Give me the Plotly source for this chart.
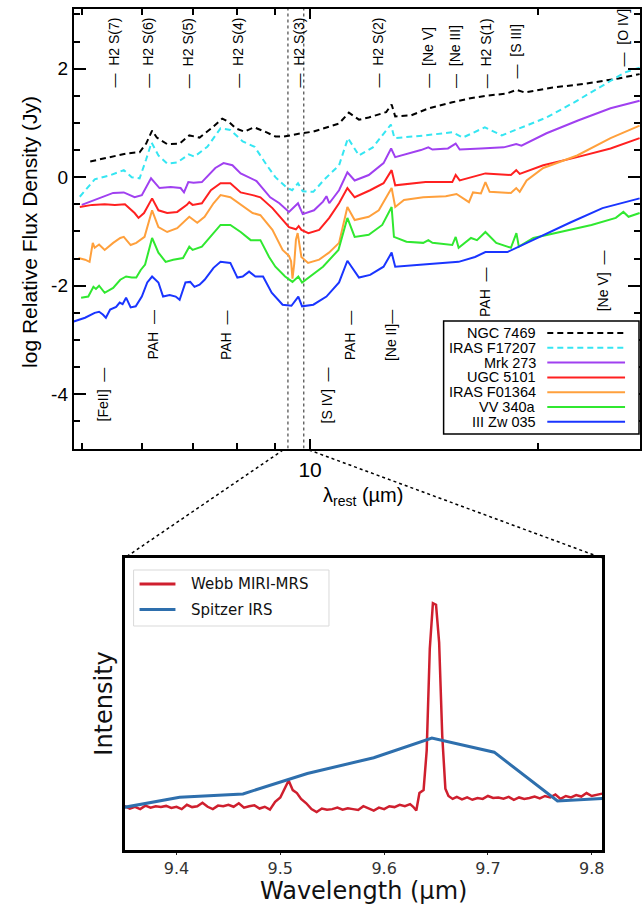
import numpy as np
import plotly.graph_objects as go

W, H = 642, 909

# ---------------- top panel: spectra (wavelength um, log relative flux density) ----------------
ngc7469 = [(5.13, 0.29), (5.44, 0.37), (5.74, 0.44), (5.96, 0.46), (6.08, 0.62), (6.19, 0.86), (6.28, 0.73),
           (6.48, 0.61), (6.73, 0.62), (6.93, 0.77), (7.15, 0.73), (7.44, 0.92), (7.66, 1.08), (7.83, 1.01),
           (7.98, 0.90), (8.19, 0.84), (8.44, 0.92), (8.75, 0.83), (9.0, 0.75), (9.24, 0.75), (9.38, 0.77),
           (9.74, 0.81), (10.1, 0.84), (10.43, 0.90), (10.92, 0.99), (11.25, 1.19), (11.6, 1.06), (11.95, 1.10),
           (12.6, 1.20), (12.81, 1.34), (12.95, 1.12), (13.6, 1.14), (14.34, 1.27), (15.4, 1.38), (16.2, 1.45),
           (17.03, 1.50), (18.15, 1.54), (18.71, 1.61), (19.2, 1.56), (20.8, 1.65), (23.0, 1.72), (25.5, 1.82),
           (27.2, 1.90)]
iras_f17207 = [(4.97, -0.36), (5.2, -0.04), (5.46, 0.04), (5.68, 0.13), (5.82, 0.0), (5.96, -0.02), (6.08, 0.33),
               (6.18, 0.64), (6.31, 0.40), (6.48, 0.25), (6.68, 0.27), (6.92, 0.42), (7.04, 0.38), (7.32, 0.56),
               (7.62, 0.90), (7.85, 0.87), (8.15, 0.66), (8.45, 0.56), (8.8, 0.19), (9.0, 0.0), (9.3, -0.18),
               (9.47, -0.24), (9.64, -0.11), (9.78, -0.26), (10.1, -0.27), (10.43, -0.05), (10.92, 0.22),
               (11.22, 0.72), (11.6, 0.40), (12.1, 0.55), (12.78, 0.97), (12.92, 0.72), (14.2, 0.77), (15.4, 0.83),
               (15.9, 0.73), (17.0, 0.92), (17.9, 0.77), (18.75, 0.88), (20.5, 1.10), (22.3, 1.38), (24.5, 1.72),
               (26.0, 1.93), (27.2, 2.02)]
mrk273 = [(5.0, -0.51), (5.2, -0.42), (5.3, -0.37), (5.5, -0.29), (5.68, -0.28), (5.87, -0.37), (6.0, -0.33),
          (6.17, -0.02), (6.33, -0.20), (6.55, -0.18), (6.75, -0.20), (6.82, -0.28), (6.91, -0.09), (7.02, -0.10),
          (7.2, -0.09), (7.5, 0.17), (7.69, 0.26), (7.9, 0.22), (8.1, 0.07), (8.5, -0.07), (8.86, -0.37),
          (9.11, -0.48), (9.38, -0.64), (9.64, -0.48), (9.78, -0.68), (10.12, -0.61), (10.4, -0.45), (10.51, -0.35),
          (10.6, -0.48), (10.92, -0.24), (11.2, 0.09), (11.45, -0.06), (11.95, 0.04), (12.5, 0.26), (12.79, 0.53),
          (12.95, 0.37), (14.0, 0.50), (14.32, 0.55), (14.5, 0.51), (15.2, 0.53), (15.56, 0.62), (15.75, 0.51),
          (16.8, 0.53), (18.0, 0.55), (18.7, 0.61), (19.0, 0.58), (20.5, 0.81), (22.6, 1.05), (24.9, 1.27),
          (27.2, 1.41)]
ugc5101 = [(4.97, -0.55), (5.16, -0.51), (5.36, -0.50), (5.53, -0.51), (5.70, -0.50), (5.87, -0.66), (5.94, -0.75),
           (6.04, -0.66), (6.19, -0.39), (6.31, -0.61), (6.48, -0.66), (6.68, -0.64), (6.88, -0.51), (6.93, -0.46),
           (7.0, -0.51), (7.2, -0.48), (7.4, -0.24), (7.62, -0.11), (7.85, -0.11), (8.1, -0.28), (8.4, -0.33),
           (8.6, -0.37), (8.92, -0.57), (9.2, -0.78), (9.38, -0.92), (9.58, -0.96), (9.66, -0.90), (9.74, -0.97),
           (9.95, -1.03), (10.28, -0.97), (10.6, -0.75), (10.92, -0.48), (11.2, -0.20), (11.45, -0.37),
           (12.0, -0.24), (12.5, -0.11), (12.81, 0.13), (12.95, -0.15), (14.2, -0.09), (15.4, -0.09), (15.56, 0.04),
           (15.75, -0.06), (17.03, 0.07), (18.4, 0.04), (18.7, 0.13), (18.9, 0.06), (20.3, 0.22), (22.5, 0.37),
           (24.9, 0.53), (27.2, 0.72)]
iras_f01364 = [(4.95, -1.49), (5.05, -1.52), (5.12, -1.56), (5.17, -1.21), (5.2, -1.30), (5.27, -1.24), (5.36, -1.34),
               (5.5, -1.21), (5.62, -1.12), (5.68, -1.10), (5.8, -1.25), (5.9, -1.21), (6.05, -1.10), (6.19, -0.61),
               (6.31, -0.92), (6.48, -1.01), (6.68, -0.94), (6.93, -0.73), (7.1, -0.84), (7.26, -0.73), (7.46, -0.48),
               (7.62, -0.33), (7.85, -0.37), (8.1, -0.51), (8.4, -0.66), (8.6, -0.70), (8.92, -0.97), (9.2, -1.34),
               (9.38, -1.45), (9.44, -1.55), (9.48, -1.87), (9.53, -1.60), (9.58, -1.15), (9.63, -1.03),
               (9.68, -1.25), (9.74, -1.47), (9.94, -1.58), (10.28, -1.52), (10.59, -1.39), (10.92, -1.21),
               (11.2, -0.55), (11.45, -0.79), (11.95, -0.73), (12.32, -0.61), (12.81, -0.20), (12.95, -0.55),
               (13.3, -0.42), (14.1, -0.37), (15.1, -0.35), (15.6, -0.31), (16.2, -0.46), (16.4, -0.28), (16.8, -0.30),
               (17.03, -0.09), (17.25, -0.27), (17.9, -0.28), (18.4, -0.29), (18.7, -0.20), (18.9, -0.27),
               (19.3, -0.06), (20.3, 0.17), (22.5, 0.40), (24.9, 0.72), (27.2, 0.95)]
vv340a = [(4.99, -2.22), (5.1, -2.20), (5.18, -2.02), (5.22, -2.06), (5.27, -2.00), (5.36, -2.13), (5.5, -2.04),
          (5.62, -1.89), (5.72, -1.83), (5.82, -1.85), (5.9, -1.85), (5.98, -1.71), (6.06, -1.61), (6.19, -1.12),
          (6.31, -1.39), (6.45, -1.56), (6.6, -1.52), (6.8, -1.49), (6.93, -1.28), (7.0, -1.34), (7.2, -1.28),
          (7.46, -1.03), (7.62, -0.88), (7.85, -0.88), (8.1, -1.01), (8.35, -1.16), (8.6, -1.16), (8.83, -1.47),
          (9.0, -1.65), (9.27, -1.83), (9.48, -1.93), (9.65, -1.83), (9.76, -1.94), (10.4, -1.65), (10.9, -1.34),
          (11.2, -0.75), (11.45, -1.10), (11.95, -1.06), (12.45, -0.88), (12.81, -0.55), (12.9, -1.10),
          (13.4, -1.19), (14.1, -1.21), (14.32, -1.16), (14.5, -1.21), (15.4, -1.25), (15.56, -1.10), (15.7, -1.30),
          (16.3, -1.12), (16.6, -1.16), (17.03, -1.01), (17.6, -1.21), (18.4, -1.30), (18.71, -1.03),
          (18.85, -1.28), (19.7, -1.12), (21.4, -1.01), (23.5, -0.88), (25.3, -0.75), (25.89, -0.64),
          (26.3, -0.73), (27.2, -0.66)]
iiizw035 = [(4.88, -2.66), (5.05, -2.59), (5.2, -2.50), (5.27, -2.48), (5.33, -2.53), (5.38, -2.59), (5.45, -2.44),
            (5.55, -2.39), (5.61, -2.31), (5.66, -2.34), (5.72, -2.22), (5.8, -2.40), (5.89, -2.38), (6.0, -2.20),
            (6.1, -1.94), (6.19, -1.83), (6.31, -1.94), (6.4, -2.20), (6.53, -2.17), (6.65, -2.20), (6.73, -2.26),
            (6.85, -1.94), (6.95, -1.93), (7.04, -2.02), (7.15, -1.98), (7.26, -1.89), (7.46, -1.67), (7.62, -1.56),
            (7.85, -1.58), (8.02, -1.85), (8.15, -1.83), (8.31, -1.74), (8.47, -1.83), (8.67, -1.83), (8.9, -2.13),
            (9.2, -2.35), (9.45, -2.37), (9.65, -2.20), (9.76, -2.38), (10.1, -2.35), (10.51, -2.20),
            (10.92, -1.94), (11.2, -1.54), (11.6, -1.85), (12.0, -1.80), (12.5, -1.65), (12.81, -1.39),
            (12.95, -1.65), (14.1, -1.61), (15.7, -1.56), (16.5, -1.47), (17.03, -1.38), (18.2, -1.38),
            (19.9, -1.12), (22.0, -0.84), (24.3, -0.57), (27.2, -0.39)]

series_names = ["NGC 7469", "IRAS F17207", "Mrk 273", "UGC 5101", "IRAS F01364", "VV 340a", "III Zw 035"]
series_data = [ngc7469, iras_f17207, mrk273, ugc5101, iras_f01364, vv340a, iiizw035]

# line identifications
top_labels = ["H2 S(7)", "H2 S(6)", "H2 S(5)", "H2 S(4)", "H2 S(3)", "H2 S(2)", "[Ne V]", "[Ne III]",
              "H2 S(1)", "[S III]", "[O IV]"]
top_labels_wl = [5.51, 6.11, 6.91, 8.03, 9.66, 12.28, 14.32, 15.56, 17.03, 18.71, 25.89]
top_labels_y = [1.61, 1.61, 1.61, 1.61, 1.61, 1.61, 1.61, 1.61, 1.61, 1.79, 2.01]
bottom_labels = ["[FeII]", "PAH", "PAH", "[S IV]", "PAH", "[Ne II]", "PAH", "[Ne V]"]
bottom_labels_wl = [5.34, 6.2, 7.75, 10.51, 11.3, 12.81, 17.0, 24.3]
bottom_labels_y = [-3.46, -2.41, -2.41, -3.46, -2.41, -2.41, -1.62, -1.31]

# zoomed window
zoom_range = [9.35, 9.81]

# ---------------- inset: Webb vs Spitzer ----------------
webb_wl = [9.350, 9.355, 9.360, 9.365, 9.370, 9.375, 9.380, 9.385, 9.390, 9.395, 9.400, 9.405, 9.410, 9.415,
           9.420, 9.425, 9.430, 9.435, 9.440, 9.445, 9.450, 9.455, 9.460, 9.465, 9.470, 9.475, 9.480, 9.485,
           9.490, 9.495, 9.500, 9.505, 9.508, 9.512, 9.516, 9.520, 9.525, 9.530, 9.535, 9.540, 9.545, 9.550,
           9.555, 9.560, 9.565, 9.570, 9.575, 9.580, 9.585, 9.590, 9.595, 9.600, 9.605, 9.610, 9.615, 9.620,
           9.625, 9.628, 9.631, 9.634, 9.638, 9.641, 9.644, 9.647, 9.650, 9.653, 9.656, 9.659, 9.662, 9.666,
           9.670, 9.675, 9.680, 9.685, 9.690, 9.695, 9.700, 9.705, 9.710, 9.715, 9.720, 9.725, 9.730, 9.735,
           9.740, 9.745, 9.750, 9.755, 9.760, 9.765, 9.770, 9.775, 9.780, 9.785, 9.790, 9.795, 9.800, 9.805, 9.810]
webb_int = [0.150, 0.142, 0.148, 0.140, 0.152, 0.145, 0.150, 0.147, 0.151, 0.144, 0.148, 0.140, 0.155, 0.147,
            0.150, 0.162, 0.148, 0.140, 0.152, 0.150, 0.155, 0.148, 0.160, 0.145, 0.150, 0.153, 0.142, 0.148,
            0.138, 0.165, 0.180, 0.215, 0.238, 0.205, 0.195, 0.175, 0.160, 0.140, 0.130, 0.142, 0.138, 0.140,
            0.145, 0.138, 0.143, 0.140, 0.137, 0.150, 0.142, 0.135, 0.145, 0.140, 0.150, 0.147, 0.155, 0.150,
            0.157, 0.148, 0.135, 0.195, 0.205, 0.340, 0.690, 0.845, 0.840, 0.710, 0.390, 0.210, 0.185, 0.175,
            0.182, 0.173, 0.180, 0.172, 0.178, 0.175, 0.185, 0.178, 0.180, 0.176, 0.182, 0.172, 0.180, 0.175,
            0.178, 0.183, 0.177, 0.185, 0.180, 0.190, 0.175, 0.185, 0.180, 0.188, 0.183, 0.195, 0.185, 0.190, 0.193]
spitzer_wl = [9.348, 9.403, 9.464, 9.526, 9.590, 9.646, 9.706, 9.767, 9.810]
spitzer_int = [0.145, 0.181, 0.192, 0.262, 0.316, 0.383, 0.335, 0.168, 0.176]

# ---------------- styles ----------------
styles = [("#000000", "6px,4px"), ("#35e6f2", "6px,4px"), ("#a040f0", "solid"), ("#ff2020", "solid"),
          ("#ffa03c", "solid"), ("#30e830", "solid"), ("#1a35ff", "solid")]
TOP_FONT = "Liberation Sans, Arial, Helvetica, sans-serif"
MPL_FONT = "DejaVu Sans, sans-serif"

def px_x(p):
    return p / W

def px_y(p):
    return 1 - p / H

fig = go.Figure()

# zoom window markers (vertical dotted lines)
for z in zoom_range:
    fig.add_trace(go.Scatter(x=[z, z], y=[-5, 3.1], mode="lines", xaxis="x", yaxis="y",
                             line=dict(color="#555555", width=1.3, dash="dot"),
                             showlegend=False, hoverinfo="skip"))

for name, data, (col, dash) in zip(series_names, series_data, styles):
    fig.add_trace(go.Scatter(x=[p[0] for p in data], y=[p[1] for p in data], mode="lines",
                             name=name, xaxis="x", yaxis="y",
                             line=dict(color=col, width=2, dash=dash),
                             showlegend=False, hoverinfo="skip"))

fig.add_trace(go.Scatter(x=webb_wl, y=webb_int, mode="lines", name="Webb MIRI-MRS", xaxis="x2", yaxis="y2",
                         line=dict(color="#cf1f2e", width=2.5), showlegend=False, hoverinfo="skip"))
fig.add_trace(go.Scatter(x=spitzer_wl, y=spitzer_int, mode="lines", name="Spitzer IRS", xaxis="x2", yaxis="y2",
                         line=dict(color="#2e6fad", width=3), showlegend=False, hoverinfo="skip"))

annotations = []
for lab, wl, yv in zip(top_labels, top_labels_wl, top_labels_y):
    annotations.append(dict(x=np.log10(wl), y=yv, xref="x", yref="y", text="\u2014\u00a0\u00a0" + lab,
                            textangle=-90, xanchor="center", yanchor="bottom", showarrow=False,
                            font=dict(family=TOP_FONT, size=14, color="black")))
for lab, wl, yv in zip(bottom_labels, bottom_labels_wl, bottom_labels_y):
    sep = "" if lab == "[Ne II]" else "\u00a0\u00a0"
    annotations.append(dict(x=np.log10(wl), y=yv, xref="x", yref="y", text=lab + sep + "\u2014",
                            textangle=-90, xanchor="center", yanchor="top", showarrow=False,
                            font=dict(family=TOP_FONT, size=14, color="black")))

# axis titles
annotations.append(dict(x=px_x(29), y=px_y(232), xref="paper", yref="paper", text="log Relative Flux Density (Jy)",
                        textangle=-90, xanchor="center", yanchor="middle", showarrow=False,
                        font=dict(family=TOP_FONT, size=21, color="black")))
annotations.append(dict(x=px_x(364), y=px_y(496), xref="paper", yref="paper", text="\u03bb<sub>rest</sub> (\u00b5m)",
                        xanchor="center", yanchor="middle", showarrow=False,
                        font=dict(family=TOP_FONT, size=20, color="black")))
annotations.append(dict(x=px_x(104), y=px_y(704), xref="paper", yref="paper", text="Intensity",
                        textangle=-90, xanchor="center", yanchor="middle", showarrow=False,
                        font=dict(family=MPL_FONT, size=24, color="#111111")))
annotations.append(dict(x=px_x(365), y=px_y(891), xref="paper", yref="paper", text="Wavelength (\u00b5m)",
                        xanchor="center", yanchor="middle", showarrow=False,
                        font=dict(family=MPL_FONT, size=24, color="#111111")))

shapes = []
# top legend (text left of sample line)
shapes.append(dict(type="rect", xref="paper", yref="paper", x0=px_x(445), x1=px_x(641), y0=px_y(434), y1=px_y(321),
                   line=dict(color="black", width=1.5), fillcolor="white", layer="above"))
for i, (name, (col, dash)) in enumerate(zip(series_names, styles)):
    ry = 333 + i * 14.8
    shapes.append(dict(type="line", xref="paper", yref="paper", x0=px_x(549), x1=px_x(627), y0=px_y(ry), y1=px_y(ry),
                       line=dict(color=col, width=2, dash=dash), layer="above"))
    annotations.append(dict(x=px_x(540), y=px_y(ry), xref="paper", yref="paper", text=name, xanchor="right",
                            yanchor="middle", showarrow=False, font=dict(family=TOP_FONT, size=14.5, color="black")))

# inset legend
shapes.append(dict(type="rect", xref="paper", yref="paper", x0=px_x(134), x1=px_x(330), y0=px_y(626), y1=px_y(570),
                   line=dict(color="#d9d9d9", width=1), fillcolor="white", layer="above"))
for i, (name, col) in enumerate([("Webb MIRI-MRS", "#cf1f2e"), ("Spitzer IRS", "#2e6fad")]):
    ry = 584 + i * 25.5
    shapes.append(dict(type="line", xref="paper", yref="paper", x0=px_x(140), x1=px_x(176), y0=px_y(ry), y1=px_y(ry),
                       line=dict(color=col, width=3), layer="above"))
    annotations.append(dict(x=px_x(190), y=px_y(ry), xref="paper", yref="paper", text=name, xanchor="left",
                            yanchor="middle", showarrow=False, font=dict(family=MPL_FONT, size=15, color="#111111")))

# zoom connectors
shapes.append(dict(type="line", xref="paper", yref="paper", x0=px_x(284), y0=px_y(450), x1=px_x(125), y1=px_y(558),
                   line=dict(color="black", width=1.5, dash="3px,3px")))
shapes.append(dict(type="line", xref="paper", yref="paper", x0=px_x(310), y0=px_y(450), x1=px_x(604), y1=px_y(558),
                   line=dict(color="black", width=1.5, dash="3px,3px")))

ymin_ticks = [v for v in np.arange(-4.5, 3.01, 0.5) if abs(v % 2) > 1e-9]

fig.update_layout(
    width=W, height=H, margin=dict(l=0, r=0, t=0, b=0),
    paper_bgcolor="white", plot_bgcolor="white",
    font=dict(family=TOP_FONT, color="black"),
    showlegend=False,
    xaxis=dict(domain=[px_x(74), 1.0], type="log", range=[np.log10(4.88), np.log10(27.23)], anchor="y",
               showline=True, linecolor="black", linewidth=2, mirror="ticks",
               ticks="inside", ticklen=10, tickwidth=1.5, tickcolor="black",
               tickvals=[10], ticktext=["10"], tickfont=dict(family=TOP_FONT, size=21, color="black"),
               ticklabelstandoff=1, showgrid=False, zeroline=False,
               minor=dict(tickvals=[5, 6, 7, 8, 9, 20], ticks="inside", ticklen=6, tickwidth=1.5,
                          tickcolor="black", showgrid=False)),
    yaxis=dict(domain=[px_y(448.5), px_y(9)], range=[-5, 3.1], anchor="x",
               showline=True, linecolor="black", linewidth=2, mirror="ticks",
               ticks="inside", ticklen=12, tickwidth=1.5, tickcolor="black",
               tickvals=[-4, -2, 0, 2], ticktext=["-4", "-2", "0", "2"],
               tickfont=dict(family=TOP_FONT, size=19, color="black"),
               showgrid=False, zeroline=False,
               minor=dict(tickvals=ymin_ticks, ticks="inside", ticklen=6, tickwidth=1.5,
                          tickcolor="black", showgrid=False)),
    xaxis2=dict(domain=[px_x(125), px_x(604)], range=zoom_range, anchor="y2",
                showline=True, linecolor="black", linewidth=3, mirror=True,
                ticks="outside", ticklen=2, tickwidth=1, tickcolor="#222222",
                tickvals=[9.4, 9.5, 9.6, 9.7, 9.8], ticktext=["9.4", "9.5", "9.6", "9.7", "9.8"],
                tickfont=dict(family=MPL_FONT, size=16, color="#333333"),
                ticklabelstandoff=0, showgrid=False, zeroline=False),
    yaxis2=dict(domain=[px_y(850), px_y(558)], range=[0, 1], anchor="x2",
                showline=True, linecolor="black", linewidth=3, mirror=True,
                showticklabels=False, ticks="", showgrid=False, zeroline=False),
    annotations=annotations,
    shapes=shapes,
)

fig.write_html("out.html", config={"displayModeBar": False},
               post_script="document.body.style.margin='0px';")
